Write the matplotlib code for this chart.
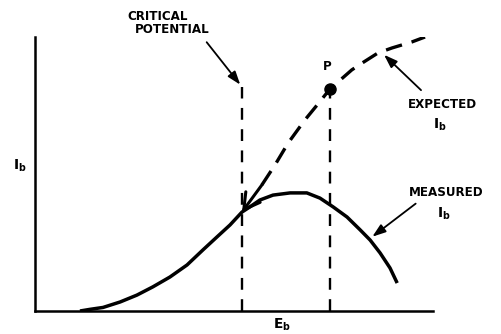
import matplotlib
matplotlib.use("Agg")
import matplotlib.pyplot as plt

# plate-current curves (arbitrary units 0..100)
measured_eb = [11.3, 13.8, 17.1, 21.4, 25.6, 29.6, 33.9, 38.2, 42.2, 45.7, 49.0, 52.0, 54.0, 56.5,
               59.8, 64.1, 68.3, 71.6, 74.9, 78.4, 81.7, 84.2, 86.7, 89.2, 91.0]
measured_ib = [0.0, 0.6, 1.3, 3.3, 5.8, 8.8, 12.4, 16.8, 22.3, 27.0, 31.4, 36.1, 38.0, 40.5,
               42.3, 43.1, 43.1, 41.2, 38.0, 34.3, 29.6, 25.9, 21.2, 15.7, 10.2]

expected_eb = [52.0, 57.0, 60.3, 63.6, 67.8, 70.9, 74.1, 79.6, 82.2, 86.2, 89.7, 94.7, 98.0]
expected_ib = [36.1, 46.0, 53.3, 61.3, 69.7, 75.2, 81.0, 88.0, 90.5, 94.2, 96.0, 98.2, 100.0]

critical_eb = 52.0
p_eb, p_ib = 74.1, 81.0
critical_top = 81.8

fig = plt.figure(figsize=(5.01, 3.34), dpi=100)
ax = fig.add_axes([35 / 501, 23 / 334, 398 / 501, 274 / 334])
ax.set_xlim(0, 100)
ax.set_ylim(0, 100)
for side in ["top", "right"]:
    ax.spines[side].set_visible(False)
for side in ["left", "bottom"]:
    ax.spines[side].set_linewidth(1.8)
ax.set_xticks([])
ax.set_yticks([])

ax.plot(measured_eb, measured_ib, color="black", lw=2.5, solid_capstyle="butt", solid_joinstyle="round")
ax.plot(expected_eb[1:], expected_ib[1:], color="black", lw=2.4, dashes=(5, 3), dash_capstyle="butt")
# arrow on the lower end of the expected curve
ax.annotate("", xy=(expected_eb[0], expected_ib[0]), xytext=(expected_eb[1], expected_ib[1]),
            arrowprops=dict(arrowstyle="->,head_length=0.7,head_width=0.4", lw=2.2, color="black",
                            shrinkA=0, shrinkB=0, mutation_scale=16))

ax.plot([critical_eb, critical_eb], [0, critical_top], color="black", lw=1.7, dashes=(5, 4))
ax.plot([p_eb, p_eb], [0, p_ib], color="black", lw=1.7, dashes=(5, 4))
ax.plot([p_eb], [p_ib], "o", color="black", ms=8)

txt = dict(fontsize=8.6, fontweight="bold", ha="center", va="center", clip_on=False)
sub = dict(fontsize=9.8, ha="center", va="center", clip_on=False)
arrow = dict(arrowstyle="-|>,head_length=0.8,head_width=0.28", lw=1.3, color="black")

ax.text(30.9, 107.3, "CRITICAL", **txt)
ax.text(34.4, 102.6, "POTENTIAL", **txt)
ax.annotate("", xy=(critical_eb, critical_top), xytext=(42.7, 98.9), arrowprops=arrow,
            annotation_clip=False)

ax.text(73.4, 89.2, "P", **txt)

ax.text(102.4, 75.5, "EXPECTED", **txt)
ax.text(101.8, 68.0, r"$\mathbf{I_b}$", **sub)
ax.annotate("", xy=(87.2, 94.2), xytext=(97.5, 79.9), arrowprops=arrow, annotation_clip=False)

ax.text(103.3, 43.4, "MEASURED", **txt)
ax.text(102.8, 35.4, r"$\mathbf{I_b}$", **sub)
ax.annotate("", xy=(84.2, 26.5), xytext=(96.2, 39.8), arrowprops=arrow, annotation_clip=False)

ax.text(62.1, -5.0, r"$\mathbf{E_b}$", **sub)
ax.text(-3.8, 52.9, r"$\mathbf{I_b}$", **sub)

fig.savefig("out.png", dpi=100)
